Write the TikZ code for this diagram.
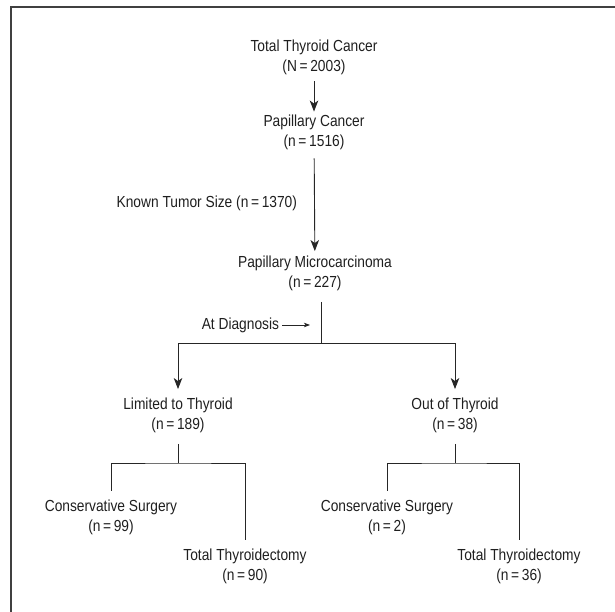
\documentclass[tikz,border=0pt]{standalone}
\usepackage{xcolor}
\usepackage{fontspec}
\setmainfont{Liberation Sans}[FakeStretch=0.86]
\usepackage{tikz}
\usetikzlibrary{arrows.meta,positioning,calc}

\begin{document}
\begin{tikzpicture}[
			x = 1pt, y = -1pt,
			every node/.style = {font=\fontsize{16}{20}\selectfont, text=black!88, align=center, inner sep=3pt, outer sep=0pt},
			conn/.style = {line width=0.9pt, draw=black!85},
			arr/.style = {conn, -{Stealth[length=11pt,width=8.5pt,inset=3pt]}},
			smallarr/.style = {conn, line width=0.8pt, -{Stealth[length=6pt,width=4.5pt,inset=1.5pt]}},
			leaf/.style = {inner ysep=9pt}
			]

			\useasboundingbox (0,0) rectangle (615,612);
			\draw[line width=1.6pt, black!75] (11,612) |- (615,7);

			\node (total) at (314,57) {Total Thyroid Cancer\\(N\,=\,2003)};
			\node (papillary) at (314,132) {Papillary Cancer\\(n\,=\,1516)};
			\node (micro) at (315,273.5) {Papillary Microcarcinoma\\(n\,=\,227)};
			\node[anchor=east] (known) at (300,203) {Known Tumor Size (n\,=\,1370)};
			\node[anchor=east] (diag) at (282,325) {At Diagnosis};
			\node (limited) at (178,415.5) {Limited to Thyroid\\(n\,=\,189)};
			\node (outthy) at (455,415.5) {Out of Thyroid\\(n\,=\,38)};
			\node[leaf] (lcons) at (111,517) {Conservative Surgery\\(n\,=\,99)};
			\node[leaf] (ltot) at (245,566.5) {Total Thyroidectomy\\(n\,=\,90)};
			\node[leaf] (rcons) at (387,517) {Conservative Surgery\\(n\,=\,2)};
			\node[leaf] (rtot) at (519,566.5) {Total Thyroidectomy\\(n\,=\,36)};

			\coordinate (split) at (321,343);
			\coordinate (diagtip) at (310,325);
			\coordinate (lsplit) at (178,463);
			\coordinate (rsplit) at (455,463);

			\draw[arr, shorten <=4pt] (total) -- (papillary);
			\draw[arr, shorten <=6pt, shorten >=2pt] (papillary) -- (micro);
			\draw[conn, shorten <=8pt] (split |- micro.south) -- (split);
			\draw[arr, shorten >=6pt] (split) -| (limited.north);
			\draw[arr, shorten >=6pt] (split) -| (outthy.north);
			\draw[smallarr] (diag.east) -- (diagtip);

			\draw[conn, shorten <=8pt] (limited) -- (lsplit);
			\draw[conn] (lcons) |- (lsplit) -| (ltot);
			\draw[conn, shorten <=8pt] (outthy) -- (rsplit);
			\draw[conn] (rcons) |- (rsplit) -| (rtot);

		\end{tikzpicture}
\end{document}
